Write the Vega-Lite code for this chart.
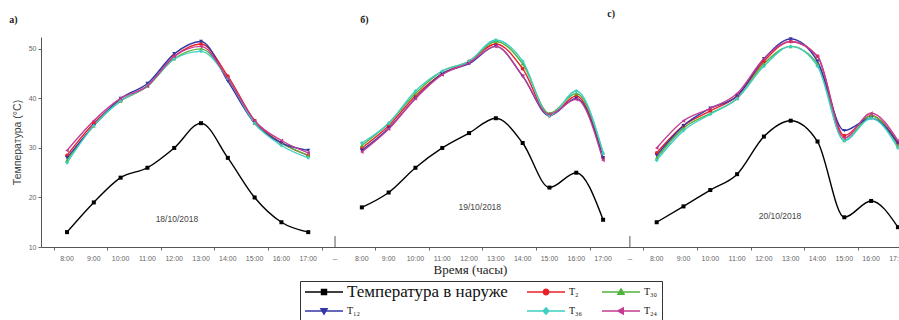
{
  "$schema": "https://vega.github.io/schema/vega-lite/v6.json",
  "width": 858,
  "height": 210,
  "autosize": {"type": "none"},
  "padding": {"left": 41, "top": 37, "right": 0, "bottom": 73},
  "background": "white",
  "config": {"view": {"stroke": null}, "font": "Liberation Sans"},
  "datasets": {
    "temps": [
      {"panel": "a", "pos": 0, "time": "8:00", "out": 13, "T2": 28.5, "T30": 27.5, "T12": 28.0, "T36": 27.0, "T24": 29.5},
      {"panel": "a", "pos": 1, "time": "9:00", "out": 19, "T2": 35.0, "T30": 34.5, "T12": 34.5, "T36": 34.5, "T24": 35.5},
      {"panel": "a", "pos": 2, "time": "10:00", "out": 24, "T2": 39.5, "T30": 39.5, "T12": 40.0, "T36": 39.5, "T24": 40.0},
      {"panel": "a", "pos": 3, "time": "11:00", "out": 26, "T2": 42.5, "T30": 42.5, "T12": 43.0, "T36": 42.5, "T24": 42.5},
      {"panel": "a", "pos": 4, "time": "12:00", "out": 30, "T2": 48.5, "T30": 48.0, "T12": 49.0, "T36": 48.0, "T24": 48.5},
      {"panel": "a", "pos": 5, "time": "13:00", "out": 35, "T2": 51.0, "T30": 50.0, "T12": 51.5, "T36": 49.5, "T24": 50.5},
      {"panel": "a", "pos": 6, "time": "14:00", "out": 28, "T2": 44.5, "T30": 44.0, "T12": 43.5, "T36": 44.0, "T24": 44.0},
      {"panel": "a", "pos": 7, "time": "15:00", "out": 20, "T2": 35.5, "T30": 35.0, "T12": 35.0, "T36": 35.0, "T24": 35.5},
      {"panel": "a", "pos": 8, "time": "16:00", "out": 15, "T2": 31.0, "T30": 31.0, "T12": 31.0, "T36": 30.5, "T24": 31.5},
      {"panel": "a", "pos": 9, "time": "17:00", "out": 13, "T2": 28.5, "T30": 28.5, "T12": 29.5, "T36": 28.0, "T24": 29.0},
      {"panel": "b", "pos": 11, "time": "8:00", "out": 18, "T2": 30.0, "T30": 30.5, "T12": 29.5, "T36": 31.0, "T24": 29.2},
      {"panel": "b", "pos": 12, "time": "9:00", "out": 21, "T2": 34.5, "T30": 35.0, "T12": 34.0, "T36": 35.0, "T24": 33.8},
      {"panel": "b", "pos": 13, "time": "10:00", "out": 26, "T2": 40.5, "T30": 41.0, "T12": 40.0, "T36": 41.5, "T24": 40.0},
      {"panel": "b", "pos": 14, "time": "11:00", "out": 30, "T2": 45.0, "T30": 45.5, "T12": 45.0, "T36": 45.5, "T24": 44.8},
      {"panel": "b", "pos": 15, "time": "12:00", "out": 33, "T2": 47.5, "T30": 47.5, "T12": 47.0, "T36": 47.5, "T24": 47.2},
      {"panel": "b", "pos": 16, "time": "13:00", "out": 36, "T2": 51.0, "T30": 51.5, "T12": 50.5, "T36": 51.8, "T24": 50.5},
      {"panel": "b", "pos": 17, "time": "14:00", "out": 31, "T2": 46.0, "T30": 47.0, "T12": 44.5, "T36": 47.5, "T24": 44.5},
      {"panel": "b", "pos": 18, "time": "15:00", "out": 22, "T2": 36.5, "T30": 37.0, "T12": 36.5, "T36": 36.5, "T24": 36.8},
      {"panel": "b", "pos": 19, "time": "16:00", "out": 25, "T2": 40.5, "T30": 41.0, "T12": 40.0, "T36": 41.5, "T24": 39.8},
      {"panel": "b", "pos": 20, "time": "17:00", "out": 15.5, "T2": 28.0, "T30": 29.0, "T12": 28.0, "T36": 29.0, "T24": 27.5},
      {"panel": "c", "pos": 22, "time": "8:00", "out": 15, "T2": 29.0, "T30": 28.0, "T12": 28.5, "T36": 27.5, "T24": 30.0},
      {"panel": "c", "pos": 23, "time": "9:00", "out": 18.2, "T2": 34.5, "T30": 34.0, "T12": 34.5, "T36": 33.5, "T24": 35.5},
      {"panel": "c", "pos": 24, "time": "10:00", "out": 21.5, "T2": 37.5, "T30": 37.0, "T12": 38.0, "T36": 36.8, "T24": 38.0},
      {"panel": "c", "pos": 25, "time": "11:00", "out": 24.7, "T2": 40.5, "T30": 40.0, "T12": 40.5, "T36": 40.0, "T24": 41.0},
      {"panel": "c", "pos": 26, "time": "12:00", "out": 32.3, "T2": 47.5, "T30": 47.0, "T12": 48.0, "T36": 46.5, "T24": 48.0},
      {"panel": "c", "pos": 27, "time": "13:00", "out": 35.5, "T2": 51.5, "T30": 50.5, "T12": 52.0, "T36": 50.5, "T24": 51.5},
      {"panel": "c", "pos": 28, "time": "14:00", "out": 31.3, "T2": 48.5, "T30": 47.0, "T12": 47.5, "T36": 46.5, "T24": 48.5},
      {"panel": "c", "pos": 29, "time": "15:00", "out": 16, "T2": 32.5, "T30": 31.5, "T12": 33.5, "T36": 31.5, "T24": 32.0},
      {"panel": "c", "pos": 30, "time": "16:00", "out": 19.3, "T2": 36.5, "T30": 36.5, "T12": 36.0, "T36": 36.0, "T24": 37.0},
      {"panel": "c", "pos": 31, "time": "17:00", "out": 14, "T2": 31.0, "T30": 30.5, "T12": 31.0, "T36": 30.0, "T24": 31.5}
    ],
    "panelLabels": [
      {"pos": -2.0, "t": 55.9, "label": "а)"},
      {"pos": 11.1, "t": 55.9, "label": "б)"},
      {"pos": 20.3, "t": 57.1, "label": "с)"}
    ],
    "dates": [
      {"pos": 4.1, "t": 15.7, "label": "18/10/2018"},
      {"pos": 15.4, "t": 18.1, "label": "19/10/2018"},
      {"pos": 26.6, "t": 16.3, "label": "20/10/2018"}
    ],
    "breaks": [
      {"pos": 10, "t": 10, "t2": 12.2},
      {"pos": 21, "t": 10, "t2": 12.2}
    ]
  },
  "layer": [
    {
      "data": {"name": "temps"},
      "transform": [{"fold": ["out", "T2", "T30", "T12", "T36", "T24"], "as": ["series", "t"]}],
      "encoding": {
        "x": {
          "field": "pos", "type": "quantitative",
          "scale": {"domain": [-0.97, 31.04], "nice": false, "zero": false},
          "axis": {
            "title": "Время (часы)",
            "values": [-0.5,0,0.5,1,1.5,2,2.5,3,3.5,4,4.5,5,5.5,6,6.5,7,7.5,8,8.5,9,9.5,10,10.5,11,11.5,12,12.5,13,13.5,14,14.5,15,15.5,16,16.5,17,17.5,18,18.5,19,19.5,20,20.5,21,21.5,22,22.5,23,23.5,24,24.5,25,25.5,26,26.5,27,27.5,28,28.5,29,29.5,30,30.5,31],
            "labels": false,
            "tickSize": 3, "tickColor": "#666", "domainColor": "#555", "grid": false,
            "titleFont": "Liberation Serif", "titleFontSize": 13, "titleFontWeight": "normal",
            "titleColor": "#222", "titlePadding": 13
          }
        },
        "y": {
          "field": "t", "type": "quantitative",
          "scale": {"domain": [10, 52.4], "nice": false, "zero": false},
          "axis": {
            "title": "Температура (°С)",
            "values": [10,12.5,15,17.5,20,22.5,25,27.5,30,32.5,35,37.5,40,42.5,45,47.5,50],
            "labelExpr": "datum.value % 5 ? '' : datum.value",
            "labelFontSize": 7, "labelColor": "#666", "labelPadding": 2,
            "tickSize": 3, "tickColor": "#666", "domainColor": "#555", "grid": false,
            "titleFontSize": 10.5, "titleFontWeight": "normal", "titleColor": "#444", "titlePadding": 6
          }
        }
      },
      "layer": [
        {
          "mark": {"type": "line", "interpolate": "monotone", "strokeWidth": 1.4},
          "encoding": {
            "color": {
              "field": "series", "type": "nominal",
              "scale": {
                "domain": ["out", "T2", "T30", "T12", "T36", "T24"],
                "range": ["#000000", "#e8202a", "#52b33c", "#3535a5", "#3fcfc2", "#c43c92"]
              },
              "legend": {
                "orient": "none", "legendX": 259, "legendY": 244,
                "direction": "horizontal", "columns": 3, "gridAlign": "none",
                "title": null, "clipHeight": 14, "symbolSize": 1444, "symbolStrokeWidth": 1.5,
                "symbolType": "M-1,0H1",
                "labelFont": "Liberation Serif", "labelFontSize": 10, "labelColor": "#111", "labelOffset": 3,
                "labelLimit": 400,
                "columnPadding": 18, "rowPadding": 4,
                "strokeColor": "#333", "padding": 4, "fillColor": "white",
                "labelExpr": "{'out': 'Температура в наруже', 'T2': 'T₂', 'T30': 'T₃₀', 'T12': 'T₁₂', 'T36': 'T₃₆', 'T24': 'T₂₄'}[datum.value]",
                "encode": {
                  "symbols": {
                    "update": {
                      "shape": {"signal": "{'out': 'M-1,0H1M-0.13,-0.13H0.13V0.13H-0.13Z', 'T2': 'M-1,0H1M-0.14,0A0.14,0.14,0,1,0,0.14,0A0.14,0.14,0,1,0,-0.14,0Z', 'T30': 'M-1,0H1M0,-0.16L0.16,0.12H-0.16Z', 'T12': 'M-1,0H1M0,0.16L0.16,-0.12H-0.16Z', 'T36': 'M-1,0H1M0,-0.17L0.15,0L0,0.17L-0.15,0Z', 'T24': 'M-1,0H1M-0.16,0L0.12,-0.16V0.16Z'}[datum.value]"},
                      "fill": {"signal": "scale('color', datum.value)"},
                      "stroke": {"signal": "scale('color', datum.value)"}
                    }
                  },
                  "labels": {
                    "update": {"fontSize": {"signal": "datum.value === 'out' ? 17 : 10"}}
                  }
                }
              }
            },
            "detail": {"field": "panel", "type": "nominal"}
          }
        },
        {
          "transform": [{"filter": {"field": "series", "equal": "out"}}],
          "mark": {"type": "point", "filled": true, "size": 16, "opacity": 1, "shape": "square", "color": "#000000"}
        },
        {
          "transform": [{"filter": {"field": "series", "equal": "T2"}}],
          "mark": {"type": "point", "filled": true, "size": 14, "opacity": 1, "shape": "circle", "color": "#e8202a"}
        },
        {
          "transform": [{"filter": {"field": "series", "equal": "T30"}}],
          "mark": {"type": "point", "filled": true, "size": 16, "opacity": 1, "shape": "triangle-up", "color": "#52b33c"}
        },
        {
          "transform": [{"filter": {"field": "series", "equal": "T12"}}],
          "mark": {"type": "point", "filled": true, "size": 16, "opacity": 1, "shape": "triangle-down", "color": "#3535a5"}
        },
        {
          "transform": [{"filter": {"field": "series", "equal": "T36"}}],
          "mark": {"type": "point", "filled": true, "size": 16, "opacity": 1, "shape": "diamond", "color": "#3fcfc2"}
        },
        {
          "transform": [{"filter": {"field": "series", "equal": "T24"}}],
          "mark": {"type": "point", "filled": true, "size": 16, "opacity": 1, "shape": "triangle-left", "color": "#c43c92"}
        }
      ]
    },
    {
      "data": {"name": "temps"},
      "mark": {"type": "text", "fontSize": 7, "color": "#666", "align": "center", "baseline": "middle"},
      "encoding": {
        "x": {"field": "pos", "type": "quantitative"},
        "y": {"datum": 7.6},
        "text": {"field": "time"}
      }
    },
    {
      "data": {"name": "breaks"},
      "mark": {"type": "text", "fontSize": 8, "color": "#666", "align": "center", "baseline": "middle"},
      "encoding": {
        "x": {"field": "pos", "type": "quantitative"},
        "y": {"datum": 7.6},
        "text": {"value": "–"}
      }
    },
    {
      "data": {"name": "breaks"},
      "mark": {"type": "rule", "color": "#555", "strokeWidth": 1},
      "encoding": {
        "x": {"field": "pos", "type": "quantitative"},
        "y": {"field": "t", "type": "quantitative"},
        "y2": {"field": "t2"}
      }
    },
    {
      "data": {"name": "dates"},
      "mark": {"type": "text", "fontSize": 8.5, "color": "#444", "align": "center", "baseline": "middle"},
      "encoding": {
        "x": {"field": "pos", "type": "quantitative"},
        "y": {"field": "t", "type": "quantitative"},
        "text": {"field": "label"}
      }
    },
    {
      "data": {"name": "panelLabels"},
      "mark": {"type": "text", "fontSize": 10, "font": "Liberation Serif", "fontWeight": "bold", "color": "#222", "align": "center", "baseline": "middle"},
      "encoding": {
        "x": {"field": "pos", "type": "quantitative"},
        "y": {"field": "t", "type": "quantitative"},
        "text": {"field": "label"}
      }
    }
  ]
}
